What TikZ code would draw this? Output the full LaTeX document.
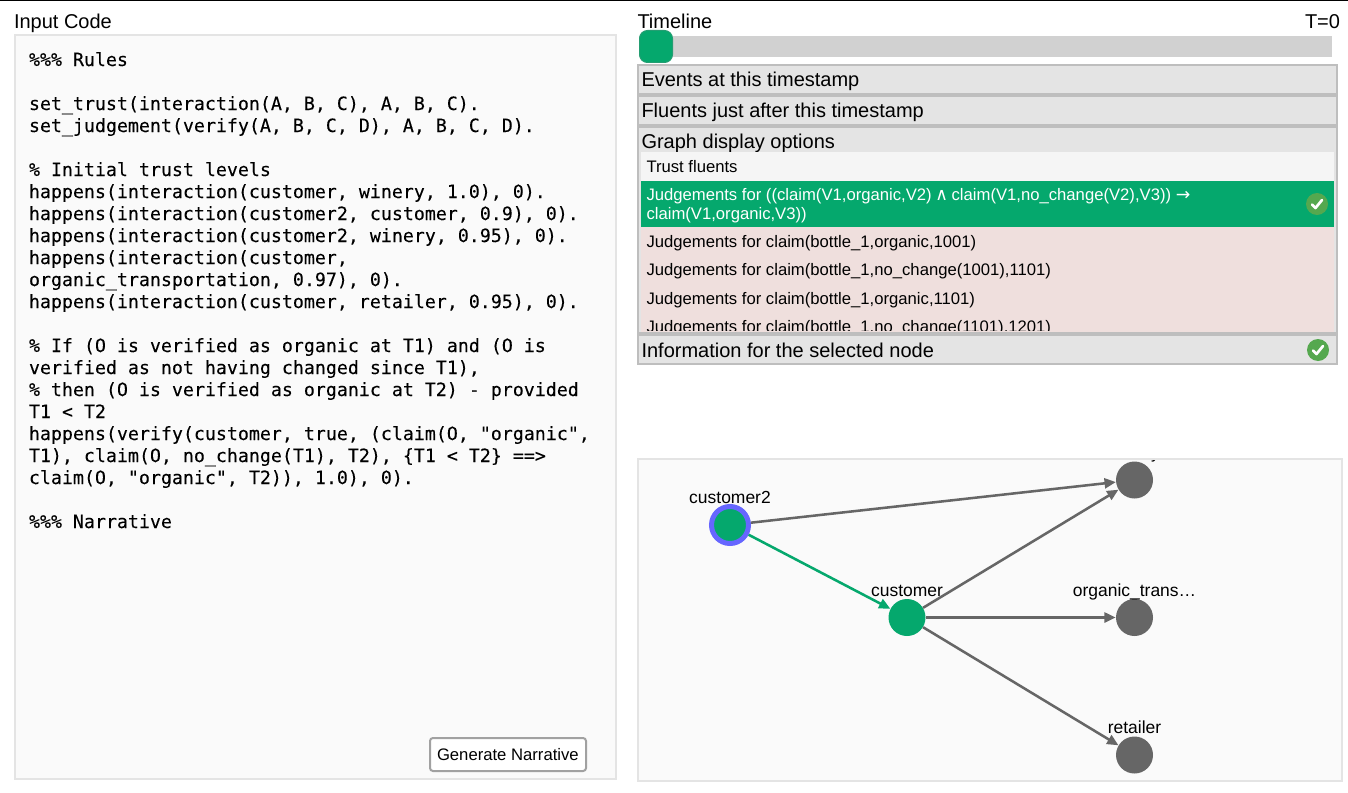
\documentclass[tikz,border=0pt]{standalone}
\usepackage{fontspec}
\setmainfont{Liberation Sans}
\newfontfamily\codefont{DejaVu Sans Mono}[FakeBold=0.12]
\newfontfamily\symfont{DejaVu Sans}
\usetikzlibrary{arrows.meta}
\definecolor{okgreen}{HTML}{05A86D}
\definecolor{edgegray}{HTML}{666666}
\definecolor{ringblue}{HTML}{6666FF}
\definecolor{panelbg}{HTML}{FAFAFA}
\definecolor{panelline}{HTML}{E4E4E4}
\definecolor{accline}{HTML}{BEBEBE}
\definecolor{accbg}{HTML}{E4E4E4}
\definecolor{pinkbg}{HTML}{EFDFDD}
\definecolor{checkgreen}{HTML}{55A84F}
\tikzset{
  x=0.75pt,y=-0.75pt,
  panel/.style={draw=panelline,line width=1.5pt,fill=panelbg},
  acc/.style={draw=accline,line width=1.5pt,fill=accbg},
  head/.style={anchor=base west,inner sep=0pt,outer sep=0pt,font=\fontsize{15pt}{18pt}\selectfont},
  item/.style={anchor=base west,inner sep=0pt,outer sep=0pt,font=\fontsize{12.5pt}{15pt}\selectfont},
  code/.style={anchor=base west,inner sep=0pt,outer sep=0pt,font=\codefont\fontsize{13.7pt}{16.5pt}\selectfont},
  glabel/.style={anchor=base,inner sep=0pt,outer sep=0pt,font=\fontsize{13.1pt}{15pt}\selectfont},
  gnode/.style={circle,inner sep=0pt,minimum size=27.75pt,fill=edgegray},
  gnodeon/.style={gnode,fill=okgreen},
  edge/.style={draw=edgegray,line width=1.9pt,-{Triangle[length=8.5pt,width=7.5pt]}},
  edgeon/.style={draw=okgreen,line width=1.9pt,-{Triangle[length=8.5pt,width=7.5pt]}},
  checkmark/.style={draw=white,line width=2pt,line cap=round,line join=round},
  checkdot/.style={circle,inner sep=0pt,minimum size=16.5pt,fill=checkgreen},
}
\begin{document}
\begin{tikzpicture}
\useasboundingbox (0,0) rectangle (1348,792);
\fill[white] (0,0) rectangle (1348,792);
\fill[black] (0,0) rectangle (1348,1);

% Left panel
\node[head] (inputtitle) at (14,29) {Input Code};
\draw[panel] (15,35) rectangle (616,779);
\node[code] (c1) at (29,66) {\%\%\% Rules};
\node[code] (c2) at (29,110) {set\_trust(interaction(A, B, C), A, B, C).};
\node[code] (c3) at (29,132) {set\_judgement(verify(A, B, C, D), A, B, C, D).};
\node[code] (c4) at (29,176) {\% Initial trust levels};
\node[code] (c5) at (29,198) {happens(interaction(customer, winery, 1.0), 0).};
\node[code] (c6) at (29,220) {happens(interaction(customer2, customer, 0.9), 0).};
\node[code] (c7) at (29,242) {happens(interaction(customer2, winery, 0.95), 0).};
\node[code] (c8) at (29,264) {happens(interaction(customer,};
\node[code] (c9) at (29,286) {organic\_transportation, 0.97), 0).};
\node[code] (c10) at (29,308) {happens(interaction(customer, retailer, 0.95), 0).};
\node[code] (c11) at (29,352) {\% If (O is verified as organic at T1) and (O is};
\node[code] (c12) at (29,374) {verified as not having changed since T1),};
\node[code] (c13) at (29,396) {\% then (O is verified as organic at T2) - provided};
\node[code] (c14) at (29,418) {T1 < T2};
\node[code] (c15) at (29,440) {happens(verify(customer, true, (claim(O, "organic",};
\node[code] (c16) at (29,462) {T1), claim(O, no\_change(T1), T2), \{T1 < T2\} ==>};
\node[code] (c17) at (29,484) {claim(O, "organic", T2)), 1.0), 0).};
\node[code] (c18) at (29,528) {\%\%\% Narrative};
\draw[draw=black!37,line width=1.5pt,fill=white,rounded corners=2.2pt] (430,738) rectangle (586,771);
\node[item] (gen) at (437,760) {Generate Narrative};

% Timeline
\node[head] (timeline) at (637.5,29) {Timeline};
\node[head,anchor=base east] (tzero) at (1340,29) {T=0};
\fill[black!18] (639,36) rectangle (1332,57);
\draw[draw=okgreen!75!gray,line width=0.75pt,fill=okgreen,rounded corners=6pt] (639.5,30.5) rectangle (672.5,62.5);

% Accordion
\draw[acc] (638,65) rectangle (1337,94);
\node[head] (events) at (641.5,86) {Events at this timestamp};
\draw[acc] (638,96) rectangle (1337,125);
\node[head] (fluents) at (641.5,117) {Fluents just after this timestamp};
\draw[acc] (638,127) rectangle (1337,333);
\node[head] (graphopts) at (641.5,148) {Graph display options};
\fill[black!4] (641,152) rectangle (1334,181);
\node[item] (trust) at (646.5,172) {Trust fluents};
\fill[okgreen] (641,181) rectangle (1334,227);
\node[item,text=white] (judge1) at (646.5,200) {Judgements for ((claim(V1,organic,V2) {\kern-0.8pt\symfont\fontsize{13pt}{13pt}\selectfont ∧\kern-0.8pt} claim(V1,no\_change(V2),V3)) {\symfont\fontsize{13pt}{13pt}\selectfont →}};
\node[item,text=white] (judge1b) at (646.5,219) {claim(V1,organic,V3))};
\node[checkdot] (chk1) at (1317,204) {};
\draw[checkmark] ([shift={(-5,0.5)}]chk1.center) -- ([shift={(-1.5,4)}]chk1.center) -- ([shift={(5,-4)}]chk1.center);
\fill[pinkbg] (641,227) rectangle (1334,332);
\begin{scope}
\clip (641,227) rectangle (1334,330.5);
\node[item] (j2) at (646.5,247) {Judgements for claim(bottle\_1,organic,1001)};
\node[item] (j3) at (646.5,275) {Judgements for claim(bottle\_1,no\_change(1001),1101)};
\node[item] (j4) at (646.5,304) {Judgements for claim(bottle\_1,organic,1101)};
\node[item] (j5) at (646.5,332) {Judgements for claim(bottle\_1,no\_change(1101),1201)};
\end{scope}
\draw[acc] (638,335) rectangle (1337,364);
\node[head] (info) at (641.5,357) {Information for the selected node};
\node[checkdot] (chk2) at (1318,350) {};
\draw[checkmark] ([shift={(-5,0.5)}]chk2.center) -- ([shift={(-1.5,4)}]chk2.center) -- ([shift={(5,-4)}]chk2.center);

% Graph
\draw[panel] (638,459) rectangle (1342,781);
\begin{scope}
\clip (639,460) rectangle (1341,780);
\node[gnodeon,draw=ringblue,line width=3.75pt] (customer2) at (730,525) {};
\node[gnodeon] (customer) at (907,617.5) {};
\node[gnode] (winery) at (1134.5,480) {};
\node[gnode] (organic) at (1134.5,617.5) {};
\node[gnode] (retailer) at (1134.5,755) {};
\node[glabel] (lc2) at (730,503) {customer2};
\node[glabel] (lc) at (907,596) {customer};
\node[glabel] (lw) at (1134.5,458) {winery};
\node[glabel] (lo) at (1134.5,596) {organic\_trans…};
\node[glabel] (lr) at (1134.5,733) {retailer};
\draw[edge] (customer2) -- (winery);
\draw[edgeon] (customer2) -- (customer);
\draw[edge] (customer) -- (winery);
\draw[edge] (customer) -- (organic);
\draw[edge] (customer) -- (retailer);
\end{scope}
\end{tikzpicture}
\end{document}
